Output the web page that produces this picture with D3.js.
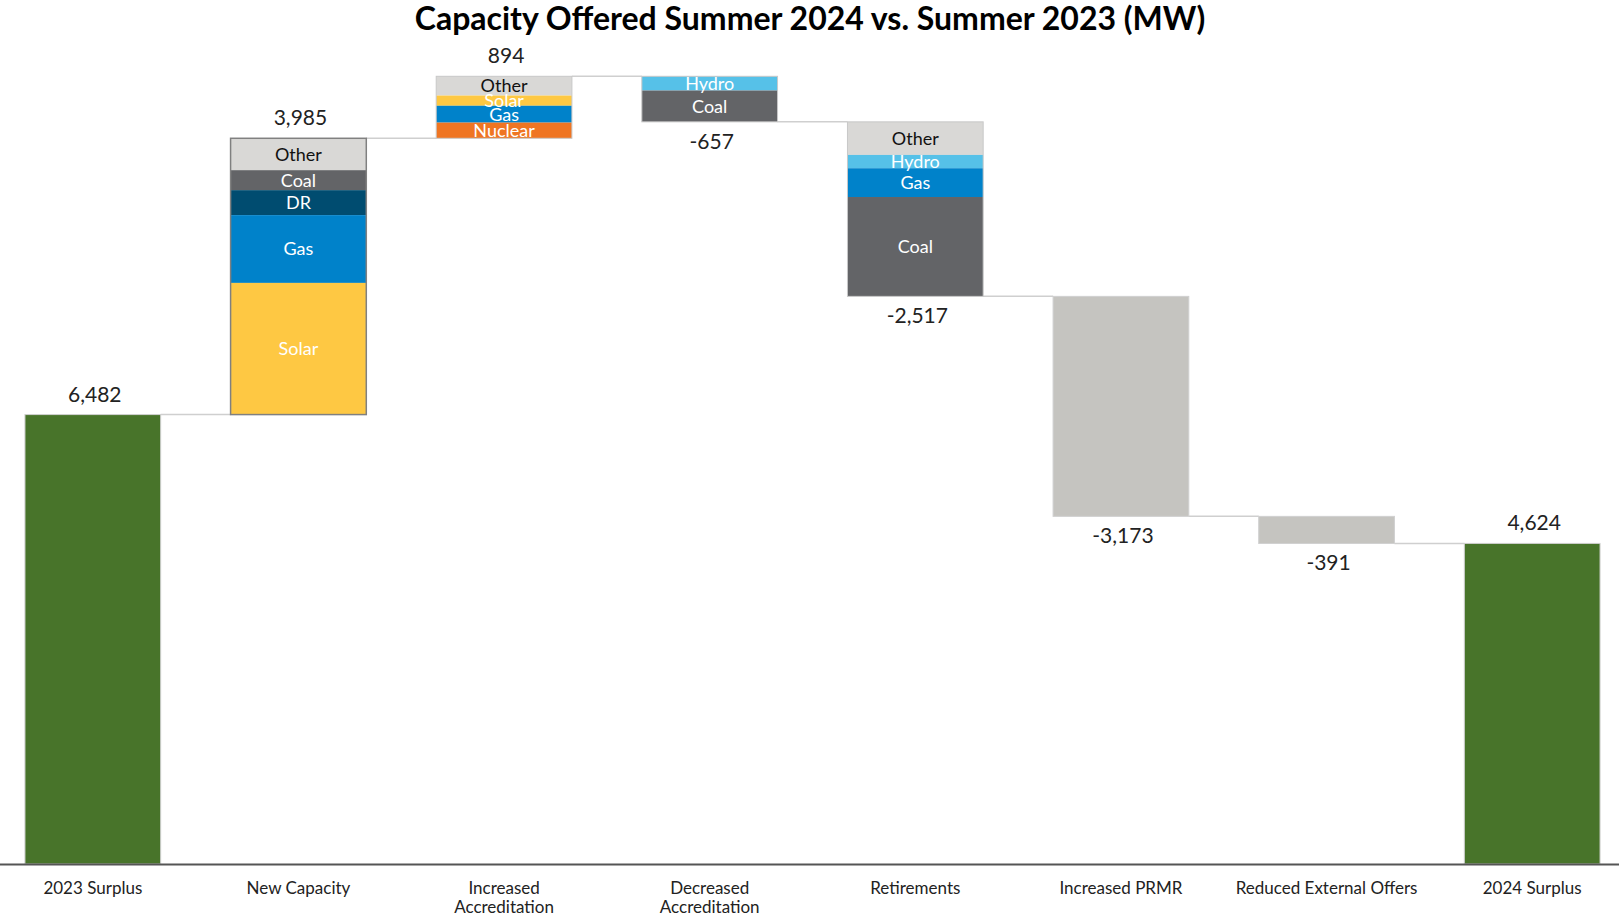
<!DOCTYPE html>
<html lang="en">
<head>
<meta charset="UTF-8">
<title>Capacity Offered Summer 2024 vs. Summer 2023</title>
<style>
  body { margin: 0; background: #fff; }
  svg { display: block; font-family: Lato, "Open Sans", sans-serif; }
  .title { font-size: 32px; font-weight: 700; fill: #000; }
  .value { font-size: 21px; fill: #222; }
  .seg-label { font-size: 18px; }
  .connector { stroke: #cfcfcf; stroke-width: 1.5px; }
  .axis path { stroke: #555; stroke-width: 2px; }
  .axis text { font-size: 17px; fill: #222; font-family: Lato, sans-serif; }
</style>
</head>
<body>
<script src="https://d3js.org/d3.v7.min.js"></script>
<script>
// categories along the bottom
const categories = ["2023 Surplus", "New Capacity", "Increased Accreditation", "Decreased Accreditation",
  "Retirements", "Increased PRMR", "Reduced External Offers", "2024 Surplus"];
const tickLabels = [["2023 Surplus"], ["New Capacity"], ["Increased", "Accreditation"], ["Decreased", "Accreditation"],
  ["Retirements"], ["Increased PRMR"], ["Reduced External Offers"], ["2024 Surplus"]];
// change in MW (first and last are totals)
const changes = [6482, 3985, 894, -657, -2517, -3173, -391, 4624];
const isTotal = [true, false, false, false, false, false, false, true];

// fuel breakdowns, listed from top of bar to bottom
const newCapacity = [["Other", 460], ["Coal", 288], ["DR", 360], ["Gas", 978], ["Solar", 1899]];
const incAccreditation = [["Other", 278], ["Solar", 147], ["Gas", 243], ["Nuclear", 226]];
const decAccreditation = [["Hydro", 205], ["Coal", 452]];
const retirements = [["Other", 477], ["Hydro", 192], ["Gas", 415], ["Coal", 1433]];
const breakdowns = [null, newCapacity, incAccreditation, decAccreditation, retirements, null, null, null];

const fuelColor = {
  Other: "#d9d8d6", Coal: "#636467", DR: "#004c70", Gas: "#0082ca",
  Solar: "#fec843", Nuclear: "#ef7522", Hydro: "#56c1e8"
};
const totalColor = "#48742a";
const plainColor = "#c5c4c0";

const width = 1619, height = 918;

const svg = d3.select("body").append("svg")
  .attr("width", width)
  .attr("height", height);

const x = d3.scaleBand()
  .domain(categories)
  .range([-10, 1635])
  .paddingInner(0.34)
  .paddingOuter(0.17);

const y = d3.scaleLinear()
  .domain([0, 12000])
  .range([864, 32]);

// build waterfall steps
let running = 0;
const steps = categories.map((c, i) => {
  let start, end;
  if (isTotal[i]) { start = 0; end = changes[i]; running = end; }
  else { start = running; end = running + changes[i]; running = end; }
  return { cat: c, i, start, end, top: Math.max(start, end), bottom: Math.min(start, end) };
});

// connectors
svg.append("g").selectAll("line")
  .data(steps.slice(0, -1))
  .join("line")
  .attr("class", "connector")
  .attr("x1", d => x(d.cat) + x.bandwidth())
  .attr("x2", d => x(categories[d.i + 1]))
  .attr("y1", d => y(d.end))
  .attr("y2", d => y(d.end));

const bars = svg.append("g");

steps.forEach(s => {
  const g = bars.append("g");
  const parts = breakdowns[s.i];
  if (parts) {
    let level = s.top;
    const segs = parts.map(([fuel, v]) => {
      const seg = { fuel, hi: level, lo: level - v };
      level -= v;
      return seg;
    });
    g.selectAll("rect")
      .data(segs)
      .join("rect")
      .attr("x", x(s.cat))
      .attr("width", x.bandwidth())
      .attr("y", d => y(d.hi))
      .attr("height", d => y(d.lo) - y(d.hi))
      .attr("fill", d => fuelColor[d.fuel]);
    g.append("rect")
      .attr("x", x(s.cat))
      .attr("width", x.bandwidth())
      .attr("y", y(s.top))
      .attr("height", y(s.bottom) - y(s.top))
      .attr("fill", "none")
      .attr("stroke", s.i === 1 ? "#808080" : "#c8c8c8")
      .attr("stroke-width", s.i === 1 ? 1.5 : 1);
    g.selectAll("text")
      .data(segs)
      .join("text")
      .attr("class", "seg-label")
      .attr("x", x(s.cat) + x.bandwidth() / 2)
      .attr("y", d => (y(d.hi) + y(d.lo)) / 2)
      .attr("dy", "0.36em")
      .attr("text-anchor", "middle")
      .attr("fill", d => d.fuel === "Other" ? "#111" : "#fff")
      .text(d => d.fuel);
  } else {
    g.append("rect")
      .attr("x", x(s.cat))
      .attr("width", x.bandwidth())
      .attr("y", y(s.top))
      .attr("height", y(s.bottom) - y(s.top))
      .attr("fill", isTotal[s.i] ? totalColor : plainColor)
      .attr("stroke", "#d0d0d0")
      .attr("stroke-width", 1);
  }

  // value label: above for increases, below for decreases
  const up = changes[s.i] >= 0;
  g.append("text")
    .attr("class", "value")
    .attr("x", x(s.cat) + x.bandwidth() / 2 + 2)
    .attr("y", up ? y(s.top) - 13 : y(s.bottom) + 27)
    .attr("text-anchor", "middle")
    .text(d3.format(",")(changes[s.i]).replace("−", "-"));
});

// bottom axis
const axis = svg.append("g")
  .attr("class", "axis")
  .attr("transform", `translate(0,${y(0)})`)
  .call(d3.axisBottom(x).tickSize(0).tickSizeOuter(0).tickFormat(""));

axis.selectAll(".tick").each(function (d, i) {
  const t = d3.select(this).append("text")
    .attr("y", 30)
    .attr("text-anchor", "middle")
    .attr("fill", "#222");
  tickLabels[i].forEach((line, k) => {
    t.append("tspan").attr("x", 0).attr("dy", k === 0 ? 0 : 19).text(line);
  });
});

// title
svg.append("text")
  .attr("class", "title")
  .attr("x", 810)
  .attr("y", 30)
  .attr("text-anchor", "middle")
  .text("Capacity Offered Summer 2024 vs. Summer 2023 (MW)");
</script>
</body>
</html>
